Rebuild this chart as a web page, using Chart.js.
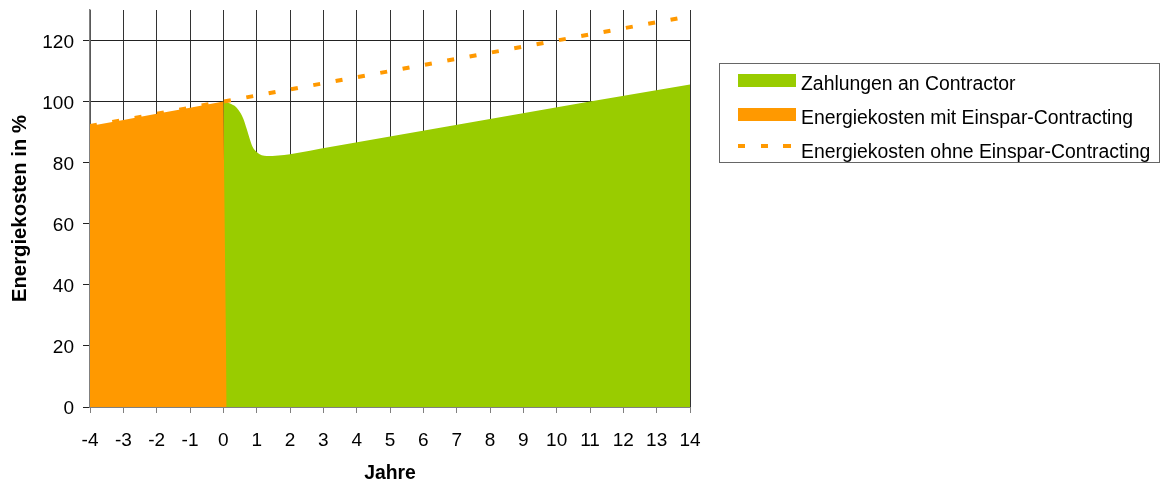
<!DOCTYPE html>
<html>
<head>
<meta charset="utf-8">
<script src="https://cdn.jsdelivr.net/npm/chart.js@4.4.1/dist/chart.umd.min.js"></script>
<style>
  html, body { margin: 0; padding: 0; background: #fff; }
  #wrap { position: relative; width: 1165px; height: 481px; }
  canvas { position: absolute; left: 0; top: 0; }
  #legend {
    position: absolute; left: 719px; top: 63px; width: 441px; height: 100px;
    border: 1px solid #666; box-sizing: border-box;
    font-family: "Liberation Sans", Arial, sans-serif; font-size: 19.4px; color: #000;
  }
  .row { position: absolute; left: 0; height: 24px; display: flex; align-items: center; white-space: nowrap; }
  .mk { width: 58px; margin-left: 18px; margin-right: 5px; position: relative; }
  .txt { line-height: 24px; }
</style>
</head>
<body>
<div id="wrap">
  <canvas id="c" width="1165" height="481"></canvas>
  <div id="legend"></div>
</div>
<script>
// ---- data ----
const seriesNames = [
  "Zahlungen an Contractor",
  "Energiekosten mit Einspar-Contracting",
  "Energiekosten ohne Einspar-Contracting"
];
// Zahlungen an Contractor (green area)
const contractorYears  = [0, 0.25, 0.4, 0.52, 0.6, 0.7, 0.8, 0.88, 1.0, 1.15, 1.3, 2, 3.2, 11, 14];
const contractorValues = [100, 99.1, 98.0, 96.2, 94.4, 91.1, 87.5, 85.1, 83.5, 82.4, 82.2, 82.8, 85.1, 100, 105.6];
// Energiekosten mit Einspar-Contracting (orange area)
const mitYears  = [-4, -3, -2, -1, 0, 0.1];
const mitValues = [92, 94, 96, 98, 100, 0];
// Energiekosten ohne Einspar-Contracting (dashed line)
const ohneYears  = [-4, -3, -2, -1, 0, 1, 2, 3, 4, 5, 6, 7, 8, 9, 10, 11, 12, 13, 14];
const ohneValues = [92, 94, 96, 98, 100, 102, 104, 106, 108, 110, 112, 114, 116, 118, 120, 122, 124, 126, 128];
// axes
const xMin = -4, xMax = 14, xStep = 1;
const yMin = 0, yMax = 130, yStep = 20;
const xTitle = "Jahre";
const yTitle = "Energiekosten in %";

const GREEN = "#99CC00", ORANGE = "#FF9900";
const FONT = "'Liberation Sans', Arial, sans-serif";

function pts(xs, ys) { return xs.map((x, i) => ({ x: x, y: ys[i] })); }

const chart = new Chart(document.getElementById('c'), {
  type: 'line',
  data: {
    datasets: [
      {
        label: seriesNames[0], data: pts(contractorYears, contractorValues),
        backgroundColor: GREEN, borderColor: GREEN, borderWidth: 0,
        fill: 'origin', pointRadius: 0, cubicInterpolationMode: 'monotone', order: 3
      },
      {
        label: seriesNames[1], data: pts(mitYears, mitValues),
        backgroundColor: ORANGE, borderColor: ORANGE, borderWidth: 0,
        fill: 'origin', pointRadius: 0, tension: 0, order: 2
      },
      {
        label: seriesNames[2], data: pts(ohneYears, ohneValues),
        borderColor: ORANGE, borderWidth: 4, borderDash: [7, 15.7], borderCapStyle: 'butt',
        fill: false, pointRadius: 0, tension: 0, order: 1
      }
    ]
  },
  options: {
    responsive: false, animation: false, devicePixelRatio: 1,
    layout: { padding: { top: 10, right: 475, bottom: 0, left: 0 } },
    plugins: { legend: { display: false }, tooltip: { enabled: false } },
    scales: {
      x: {
        type: 'linear', min: xMin, max: xMax,
        afterFit: (s) => { s.height = 74; s.paddingLeft = 0; s.paddingRight = 0; },
        ticks: { stepSize: xStep, color: '#000', padding: 18, maxRotation: 0, autoSkip: false,
                 font: { family: FONT, size: 19, lineHeight: 1 } },
        grid: { color: '#333', lineWidth: 1, tickLength: 6, tickColor: '#808080', drawTicks: true },
        border: { color: '#808080', width: 1 },
        title: { display: true, text: xTitle, color: '#000', padding: { top: 0, bottom: -2 },
                 font: { family: FONT, size: 19.4, weight: 'bold', lineHeight: 1 } }
      },
      y: {
        type: 'linear', min: yMin, max: yMax,
        afterFit: (s) => { s.width = 90; s.paddingTop = 0; s.paddingBottom = 0; },
        ticks: { stepSize: yStep, includeBounds: false, color: '#000', padding: 9, labelOffset: 2,
                 font: { family: FONT, size: 19, lineHeight: 1 } },
        grid: { color: '#222', lineWidth: 1, tickLength: 7, tickColor: '#222' },
        border: { color: '#808080', width: 1.5 },
        title: { display: true, text: yTitle, color: '#000', padding: { top: 10, bottom: 0 },
                 font: { family: FONT, size: 20.3, weight: 'bold', lineHeight: 1 } }
      }
    }
  }
});

// ---- legend (HTML, boxed, at the right) ----
const legend = document.getElementById('legend');
const rowTops = [7, 41, 75];
seriesNames.forEach((name, i) => {
  const row = document.createElement('div');
  row.className = 'row';
  row.style.top = rowTops[i] + 'px';
  const mk = document.createElement('div');
  mk.className = 'mk';
  if (i < 2) {
    mk.style.height = '13px';
    mk.style.background = i === 0 ? GREEN : ORANGE;
    mk.style.marginTop = '-6px';
  } else {
    mk.style.height = '4px';
    mk.style.marginTop = '-10px';
    mk.style.background = `repeating-linear-gradient(to right, ${ORANGE} 0 7.5px, transparent 7.5px 22.7px)`;
  }
  const tx = document.createElement('span');
  tx.className = 'txt';
  tx.textContent = name;
  row.appendChild(mk);
  row.appendChild(tx);
  legend.appendChild(row);
});
</script>
</body>
</html>
